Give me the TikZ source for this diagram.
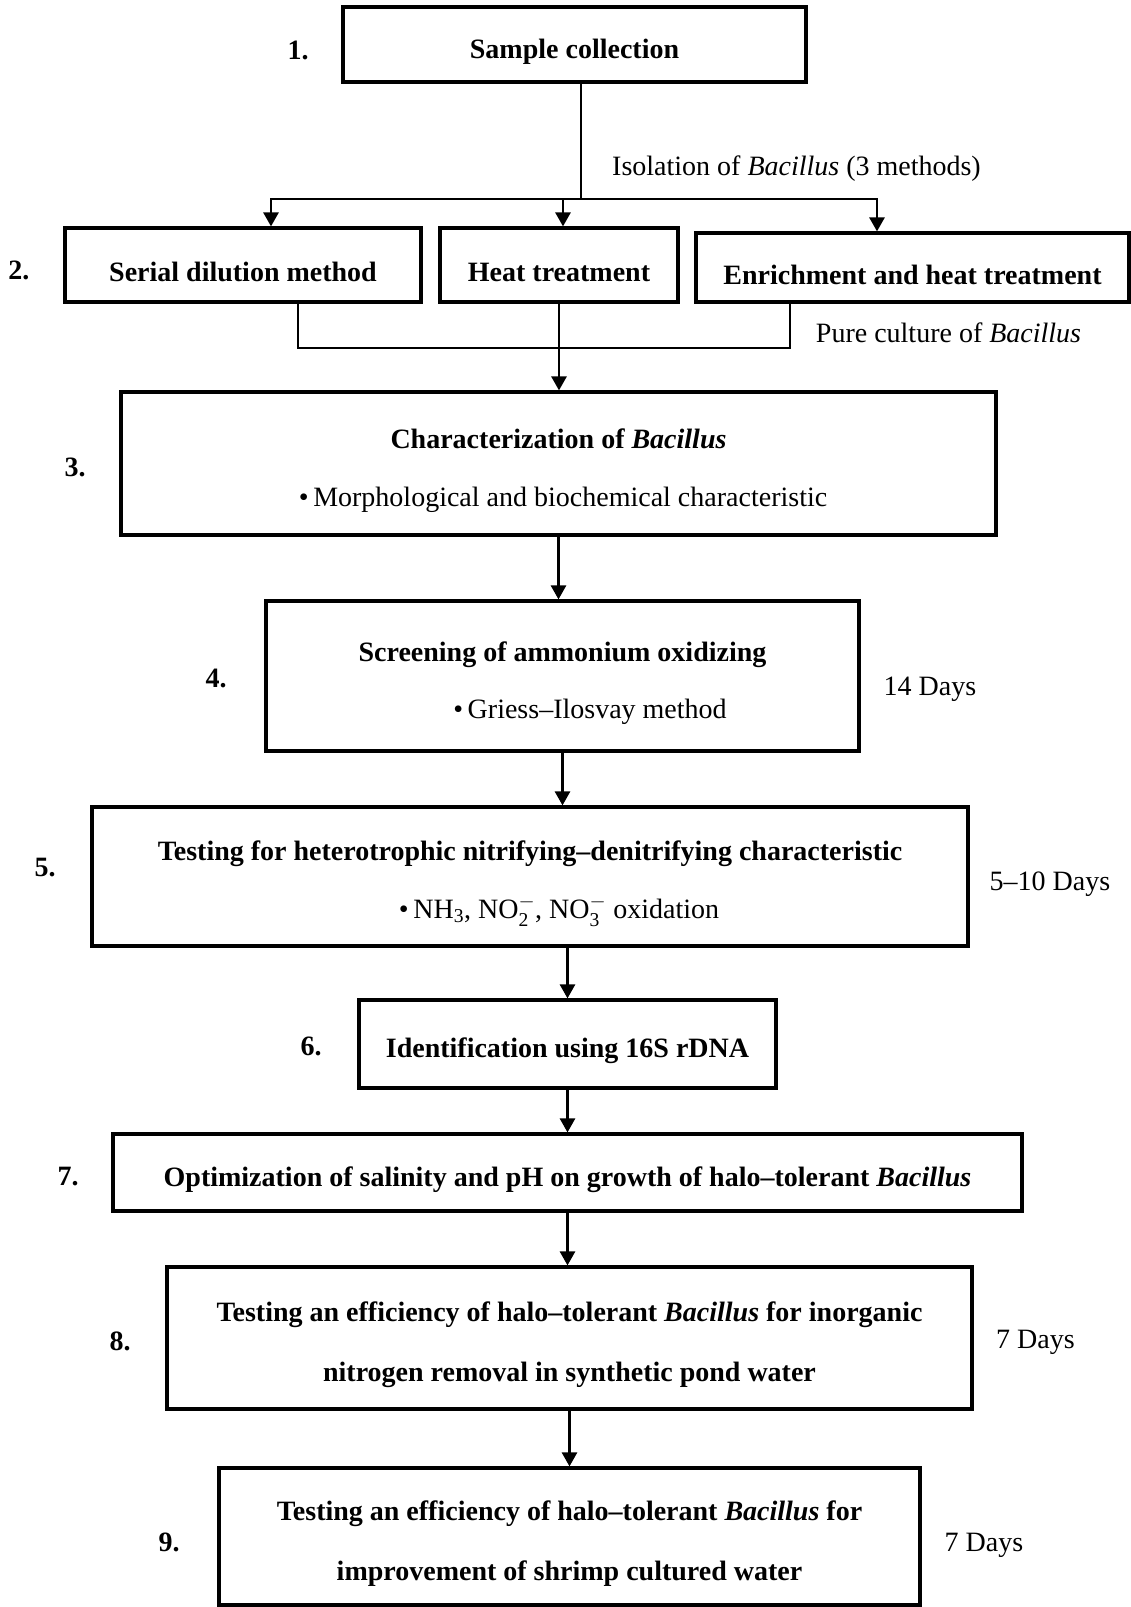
\documentclass[tikz,border=0pt]{standalone}
\usepackage{fontspec}
\usepackage{amsmath}
\setmainfont{Liberation Serif}
\usetikzlibrary{arrows.meta}
\begin{document}
\begin{tikzpicture}[>={Triangle[width=15pt,length=14pt]},x=1pt,y=-1pt,
	box/.style={draw,line width=3.2pt,inner sep=0pt,align=center,font=\fontsize{28}{34}\selectfont\bfseries},
	num/.style={font=\fontsize{28}{34}\selectfont\bfseries},
	txt/.style={font=\fontsize{28}{34}\selectfont},
	line/.style={line width=2.7pt}]
			\def\bac{\textit{Bacillus}}
			\def\up{\rule{0pt}{34pt}}
			\useasboundingbox (0,0) rectangle (1131,1607);
			\node[box,minimum width=463,minimum height=75] (b1) at (574.5,44.5) {\up Sample collection};
			\node[box,minimum width=356,minimum height=74] (b2a) at (243,265) {\up Serial dilution method};
			\node[box,minimum width=238,minimum height=74] (b2b) at (559,265) {\up Heat treatment};
			\node[box,minimum width=433,minimum height=69] (b2c) at (912.5,267.5) {\up Enrichment and heat treatment};
			\node[box,minimum width=875,minimum height=143] (b3) at (558.5,463.5) {\up Characterization of \bac\\[24pt]\mdseries\hspace*{9pt}\textbullet\,Morphological and biochemical characteristic};
			\node[box,minimum width=593,minimum height=150] (b4) at (562.5,676) {\up Screening of ammonium oxidizing\\[23pt]\mdseries\hspace*{55pt}\textbullet\,Griess--Ilosvay method};
			\node[box,minimum width=876,minimum height=139] (b5) at (530,876.5) {\up Testing for heterotrophic nitrifying--denitrifying characteristic\\[24pt]\mdseries\hspace*{58pt}\textbullet\,NH$_{\text{3}}$, NO$_{\text{2}}^{-}$, NO$_{\text{3}}^{-}$ oxidation};
			\node[box,minimum width=417,minimum height=88] (b6) at (567.5,1044) {\up Identification using 16S rDNA};
			\node[box,minimum width=909,minimum height=77] (b7) at (567.5,1172.5) {\up Optimization of salinity and pH on growth of halo--tolerant \bac};
			\node[box,minimum width=805,minimum height=142] (b8) at (569.5,1338) {\up Testing an efficiency of halo--tolerant \bac{} for inorganic\\[26pt]nitrogen removal in synthetic pond water};
			\node[box,minimum width=701,minimum height=137] (b9) at (569.5,1536.5) {\up Testing an efficiency of halo--tolerant \bac{} for\\[26pt]improvement of shrimp cultured water};
			\node[num] (n1) at (298,50) {1.};
			\node[num] (n2) at (19,270) {2.};
			\node[num] (n3) at (75,467) {3.};
			\node[num] (n4) at (216,678) {4.};
			\node[num] (n5) at (45,868) {5.};
			\node[num] (n6) at (311,1046) {6.};
			\node[num] (n7) at (68,1177) {7.};
			\node[num] (n8) at (120,1341) {8.};
			\node[num] (n9) at (169,1542) {9.};
			\node[txt] (iso) at (796.5,169) {Isolation of \bac{} (3 methods)};
			\node[txt] (pure) at (948.5,333) {Pure culture of \bac};
			\node[txt] (d4) at (930,689) {14 Days};
			\node[txt] (d5) at (1050,884) {5--10 Days};
			\node[txt] (d8) at (1035.5,1342) {7 Days};
			\node[txt] (d9) at (984,1545) {7 Days};
			\coordinate (br) at (581,199);
			\coordinate (mg) at (559,348);
			\draw[line] ([xshift=6.5]b1.south) -- (br);
			\draw[line,->] (br) -| ([xshift=28]b2a.north);
			\draw[line,->] (br) -| ([xshift=4]b2b.north);
			\draw[line,->] (br) -| ([xshift=-35.5]b2c.north);
			\draw[line] ([xshift=55]b2a.south) |- (mg);
			\draw[line] ([xshift=-122.5]b2c.south) |- (mg);
			\draw[line,->] (b2b.south) -- (b2b.south |- b3.north);
			\draw[line,->] (b3.south) -- (b3.south |- b4.north);
			\draw[line,->] (b4.south) -- (b4.south |- b5.north);
			\draw[line,->] (b6.north |- b5.south) -- (b6.north);
			\draw[line,->] (b6.south) -- (b6.south |- b7.north);
			\draw[line,->] (b7.south) -- (b7.south |- b8.north);
			\draw[line,->] (b8.south) -- (b8.south |- b9.north);
\end{tikzpicture}
\end{document}
